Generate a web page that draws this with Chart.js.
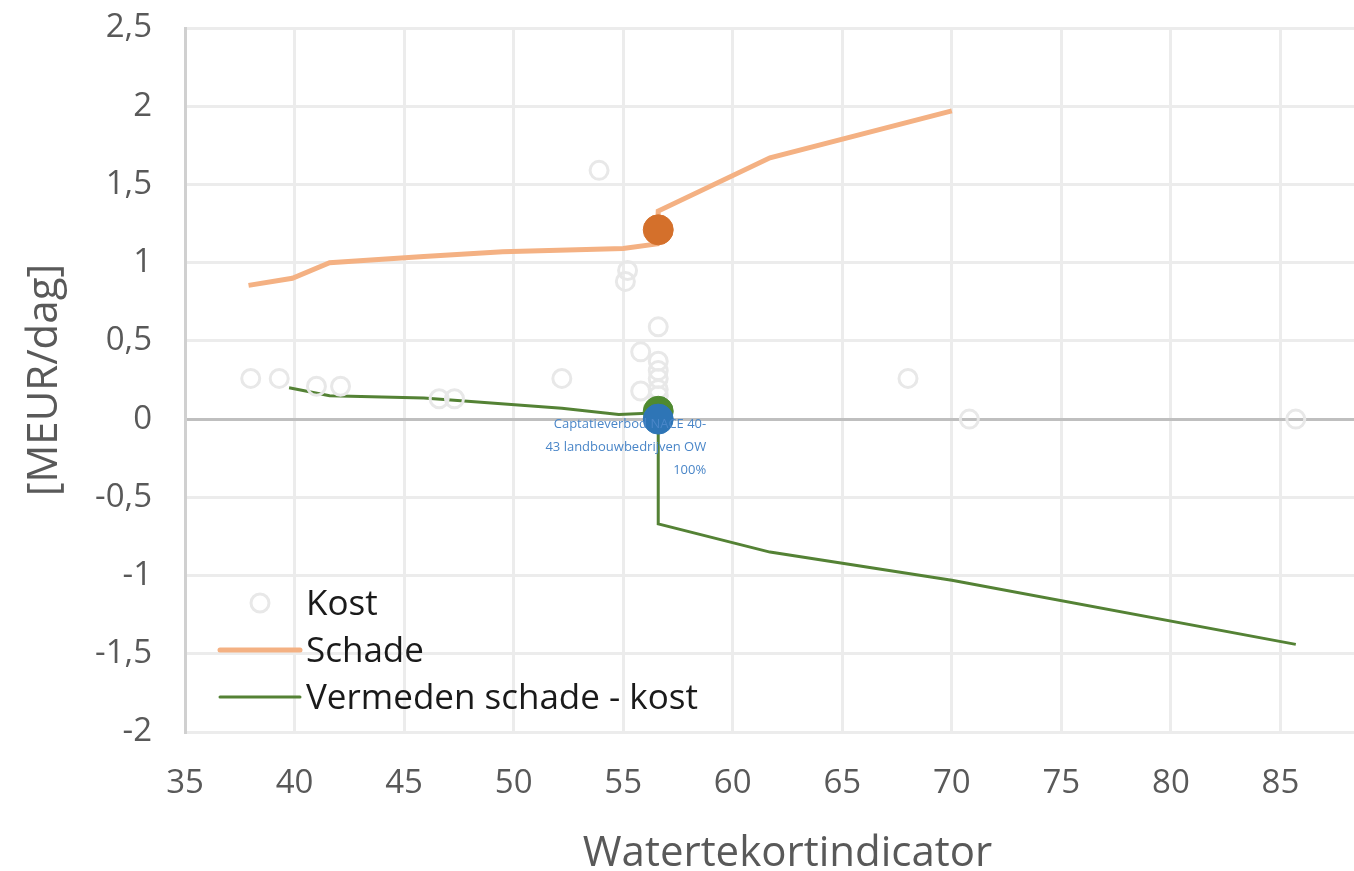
<!DOCTYPE html>
<html>
<head>
<meta charset="utf-8">
<script src="https://cdn.jsdelivr.net/npm/chart.js@4/dist/chart.umd.min.js"></script>
<style>
  body { margin: 0; background: #fff; overflow: hidden; }
  /* plot continues past the right edge, like the cropped original */
  #wrap { width: 1390px; height: 871px; }
</style>
</head>
<body>
<div id="wrap"><canvas id="chart"></canvas></div>
<script>
// Kost: losse punten (open cirkels)
const kostX = [38.0, 39.3, 41.0, 42.1, 46.6, 47.3, 52.2, 53.9, 55.2, 55.1, 56.6, 55.8, 56.6, 56.6, 56.6, 55.8, 56.6, 56.6, 68.0, 70.8, 85.7];
const kostY = [0.26, 0.26, 0.21, 0.21, 0.13, 0.13, 0.26, 1.59, 0.95, 0.88, 0.59, 0.43, 0.37, 0.31, 0.26, 0.18, 0.19, 0.15, 0.26, 0.0, 0.0];

// Schade lijn
const schadeX = [37.9, 39.9, 41.6, 45.9, 49.5, 55.0, 56.55, 56.6, 61.7, 70.0];
const schadeY = [0.855, 0.90, 1.00, 1.04, 1.07, 1.09, 1.12, 1.33, 1.67, 1.97];

// Vermeden schade - kost lijn
const vermedenX = [39.75, 41.6, 45.9, 52.2, 54.8, 56.6, 56.6, 61.7, 70.0, 85.7];
const vermedenY = [0.20, 0.15, 0.135, 0.07, 0.03, 0.04, -0.67, -0.85, -1.03, -1.44];

// geselecteerde maatregel
const selX = [56.6];
const selSchade = [1.21];
const selVermeden = [0.05];
const selKost = [0.0];
const selLabel = ['Captatieverbod NACE 40-', '43 landbouwbedrijven OW', '100%'];

const yTicks = [-2, -1.5, -1, -0.5, 0, 0.5, 1, 1.5, 2, 2.5];
const xTicks = [35, 40, 45, 50, 55, 60, 65, 70, 75, 80, 85, 90];

const FONT = "'Open Sans', sans-serif";
const GREY = '#595959';

function pts(xs, ys) {
  return xs.map((x, i) => ({ x: x, y: ys[i] }));
}

// legend inside the plot, bottom left
const legendPlugin = {
  id: 'insideLegend',
  afterDraw(chart) {
    const ctx = chart.ctx;
    const items = [
      { ds: chart.data.datasets[0], y: 603, type: 'point' },
      { ds: chart.data.datasets[1], y: 650, type: 'line' },
      { ds: chart.data.datasets[2], y: 697, type: 'line' }
    ];
    ctx.save();
    ctx.font = '35px ' + FONT;
    ctx.textBaseline = 'middle';
    ctx.textAlign = 'left';
    items.forEach(it => {
      if (it.type === 'point') {
        ctx.beginPath();
        ctx.arc(260, it.y, 9, 0, Math.PI * 2);
        ctx.strokeStyle = it.ds.borderColor;
        ctx.lineWidth = it.ds.borderWidth;
        ctx.stroke();
      } else {
        ctx.beginPath();
        ctx.moveTo(220, it.y);
        ctx.lineTo(300, it.y);
        ctx.strokeStyle = it.ds.borderColor;
        ctx.lineWidth = it.ds.borderWidth;
        ctx.lineCap = 'round';
        ctx.stroke();
      }
      ctx.fillStyle = '#1a1a1a';
      ctx.fillText(it.ds.label, 306, it.y + 2);
    });
    ctx.restore();
  }
};

// data label next to the blue point
const labelPlugin = {
  id: 'selLabel',
  afterDraw(chart) {
    const ctx = chart.ctx;
    const px = chart.scales.x.getPixelForValue(selX[0]);
    const py = chart.scales.y.getPixelForValue(selKost[0]);
    ctx.save();
    ctx.font = '13px ' + FONT;
    ctx.fillStyle = '#4a86c8';
    ctx.textAlign = 'right';
    ctx.textBaseline = 'middle';
    selLabel.forEach((t, i) => {
      ctx.fillText(t, px + 48, py + 5 + i * 23);
    });
    ctx.restore();
  }
};

new Chart(document.getElementById('chart'), {
  type: 'scatter',
  data: {
    datasets: [
      {
        label: 'Kost',
        data: pts(kostX, kostY),
        showLine: false,
        pointRadius: 9,
        pointBorderWidth: 3,
        borderWidth: 3,
        borderColor: '#e8e8e8',
        pointBorderColor: '#e8e8e8',
        pointBackgroundColor: 'rgba(0,0,0,0)',
        order: 0
      },
      {
        label: 'Schade',
        data: pts(schadeX, schadeY),
        showLine: true,
        borderColor: '#f4b183',
        borderWidth: 5,
        pointRadius: 0,
        order: 1
      },
      {
        label: 'Vermeden schade - kost',
        data: pts(vermedenX, vermedenY),
        showLine: true,
        borderColor: '#548235',
        borderWidth: 3,
        pointRadius: 0,
        order: 2
      },
      {
        label: 'sel schade',
        data: pts(selX, selSchade),
        pointRadius: 15,
        pointBackgroundColor: '#d4702b',
        pointBorderColor: '#d4702b',
        order: -1
      },
      {
        label: 'sel vermeden',
        data: pts(selX, selVermeden),
        pointRadius: 15,
        pointBackgroundColor: '#4f8a30',
        pointBorderColor: '#4f8a30',
        order: -2
      },
      {
        label: 'sel kost',
        data: pts(selX, selKost),
        pointRadius: 15,
        pointBackgroundColor: '#2e75b6',
        pointBorderColor: '#2e75b6',
        order: -3
      }
    ]
  },
  options: {
    responsive: true,
    maintainAspectRatio: false,
    animation: false,
    layout: { autoPadding: false, padding: { top: 28, right: 0, left: 0, bottom: 0 } },
    plugins: {
      legend: { display: false },
      tooltip: { enabled: false }
    },
    scales: {
      x: {
        type: 'linear',
        min: 35,
        max: 90,
        afterFit(scale) {
          scale.height = 139;
          scale.paddingLeft = 0;
          scale.paddingRight = 0;
        },
        afterBuildTicks(scale) { scale.ticks = xTicks.map(v => ({ value: v })); },
        border: { display: false },
        grid: { color: '#ececec', lineWidth: 3, drawTicks: false },
        ticks: {
          padding: 32,
          color: GREY,
          font: { family: FONT, size: 33 },
          callback: v => (v < 90 ? String(v) : '')
        },
        title: {
          display: true,
          text: 'Watertekortindicator',
          color: GREY,
          font: { family: FONT, size: 42 },
          padding: { top: 0, bottom: -8 }
        }
      },
      y: {
        min: -2,
        max: 2.5,
        afterFit(scale) {
          scale.width = 185;
          scale.paddingTop = 0;
          scale.paddingBottom = 0;
        },
        afterBuildTicks(scale) { scale.ticks = yTicks.map(v => ({ value: v })); },
        border: { display: true, color: '#d0d0d0', width: 3 },
        grid: {
          color: ctx => (ctx.tick && ctx.tick.value === 0 ? '#bfbfbf' : '#ececec'),
          lineWidth: 3,
          drawTicks: false
        },
        ticks: {
          padding: 33,
          color: GREY,
          font: { family: FONT, size: 33 },
          callback: v => String(v).replace('.', ',')
        },
        title: {
          display: true,
          text: '[MEUR/dag]',
          color: GREY,
          font: { family: FONT, size: 42 },
          padding: { top: 20, bottom: 0 }
        }
      }
    }
  },
  plugins: [legendPlugin, labelPlugin]
});
</script>
</body>
</html>
